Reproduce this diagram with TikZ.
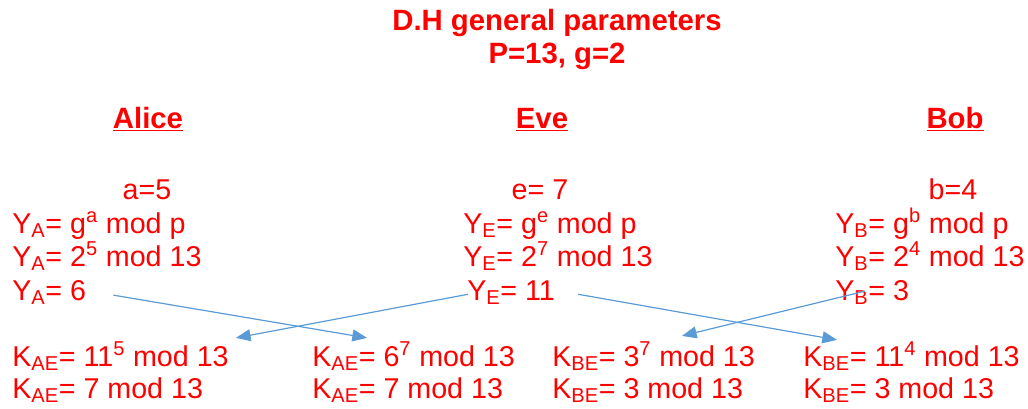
\documentclass[tikz,border=0pt]{standalone}
\usepackage{fontspec}
\setmainfont{Liberation Sans}
\usetikzlibrary{arrows.meta}
\definecolor{keyred}{RGB}{255,0,0}
\definecolor{wireblue}{RGB}{91,155,213}

\begin{document}
\begin{tikzpicture}[
    x=0.75pt,y=-0.75pt,
    txt/.style={text=keyred,inner sep=0pt,anchor=base west,font=\fontsize{21.5}{26}\selectfont},
    mid/.style={txt,anchor=base},
    head/.style={text=keyred,inner sep=0pt,anchor=base,font=\fontsize{22}{26}\selectfont\bfseries},
    wire/.style={draw=wireblue,line width=0.9pt,-{Triangle[length=11pt,width=9pt]}}
]
\useasboundingbox (0,0) rectangle (1028,408);

% general parameters
\node[head] (title) at (557,30) {D.H general parameters};
\node[head] (params) at (557,63) {P=13, g=2};

% the three parties
\node[head] (alice) at (148,128) {\underline{Alice}};
\node[head] (eve) at (542,128) {\underline{Eve}};
\node[head] (bob) at (955,128) {\underline{Bob}};

% Alice
\node[mid] (aSecret) at (147,199) {a=5};
\node[txt] (yA1) at (12,233) {Y\textsubscript{A}= g\textsuperscript{a} mod p};
\node[txt] (yA2) at (12,266) {Y\textsubscript{A}= 2\textsuperscript{5} mod 13};
\node[txt] (yA3) at (12,300) {Y\textsubscript{A}= 6};

% Eve
\node[mid] (eSecret) at (540,199) {e= 7};
\node[txt] (yE1) at (463,233) {Y\textsubscript{E}= g\textsuperscript{e} mod p};
\node[txt] (yE2) at (463,266) {Y\textsubscript{E}= 2\textsuperscript{7} mod 13};
\node[txt] (yE3) at (467,300) {Y\textsubscript{E}= 11};

% Bob
\node[mid] (bSecret) at (953,199) {b=4};
\node[txt] (yB1) at (835,233) {Y\textsubscript{B}= g\textsuperscript{b} mod p};
\node[txt] (yB2) at (835,266) {Y\textsubscript{B}= 2\textsuperscript{4} mod 13};
\node[txt] (yB3) at (835,300) {Y\textsubscript{B}= 3};

% shared keys
\node[txt] (kAE1) at (12,366) {K\textsubscript{AE}= 11\textsuperscript{5} mod 13};
\node[txt] (kAE2) at (12,398) {K\textsubscript{AE}= 7 mod 13};
\node[txt] (kEA1) at (312,366) {K\textsubscript{AE}= 6\textsuperscript{7} mod 13};
\node[txt] (kEA2) at (312,398) {K\textsubscript{AE}= 7 mod 13};
\node[txt] (kEB1) at (552,366) {K\textsubscript{BE}= 3\textsuperscript{7} mod 13};
\node[txt] (kEB2) at (552,398) {K\textsubscript{BE}= 3 mod 13};
\node[txt] (kBE1) at (803,366) {K\textsubscript{BE}= 11\textsuperscript{4} mod 13};
\node[txt] (kBE2) at (803,398) {K\textsubscript{BE}= 3 mod 13};

\draw[wire] ([shift={(27,3)}]yA3.east) -- ([shift={(55,-4)}]kEA1.north west);
\draw[wire] ([shift={(1,2)}]yE3.west) -- ([shift={(7,-4)}]kAE1.north east);
\draw[wire] ([shift={(23,2)}]yE3.east) -- ([shift={(34,-2)}]kBE1.north west);
\draw[wire] ([shift={(30,-1)}]yB3.west) -- ([shift={(130,-6)}]kEB1.north west);
\end{tikzpicture}
\end{document}
